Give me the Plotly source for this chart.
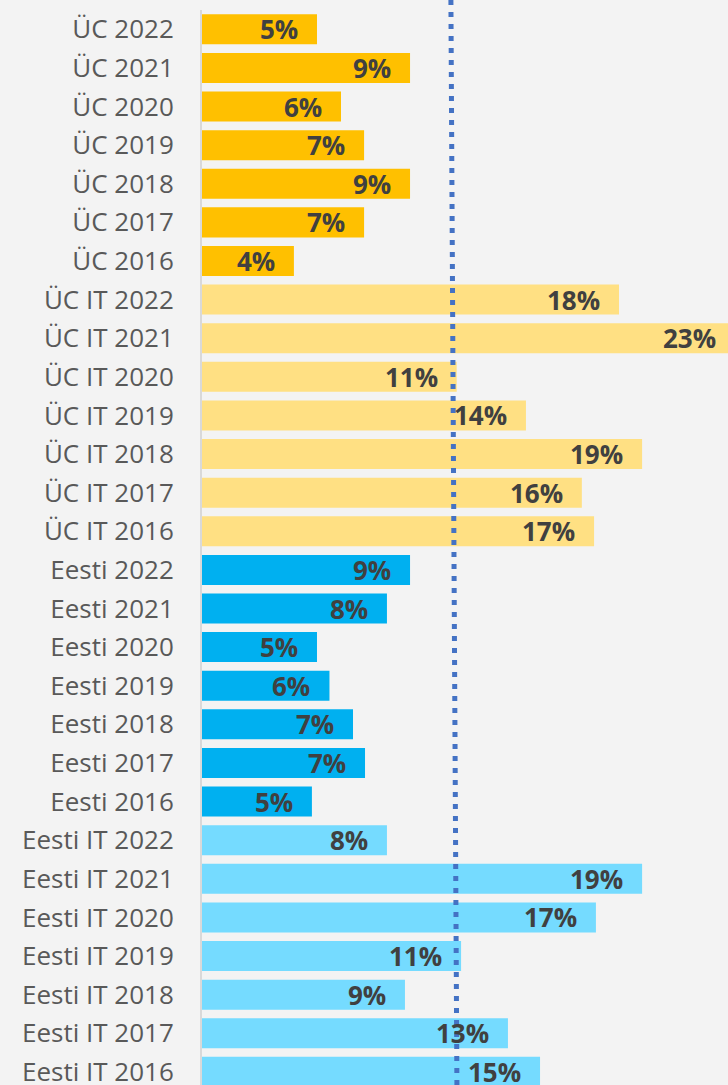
import plotly.graph_objects as go

# Categories, top to bottom as shown
categories = [
    "ÜC 2022", "ÜC 2021", "ÜC 2020", "ÜC 2019", "ÜC 2018", "ÜC 2017", "ÜC 2016",
    "ÜC IT 2022", "ÜC IT 2021", "ÜC IT 2020", "ÜC IT 2019", "ÜC IT 2018", "ÜC IT 2017", "ÜC IT 2016",
    "Eesti 2022", "Eesti 2021", "Eesti 2020", "Eesti 2019", "Eesti 2018", "Eesti 2017", "Eesti 2016",
    "Eesti IT 2022", "Eesti IT 2021", "Eesti IT 2020", "Eesti IT 2019", "Eesti IT 2018", "Eesti IT 2017", "Eesti IT 2016",
]
groups = (["ÜC"] * 7 + ["ÜC IT"] * 7 + ["Eesti"] * 7 + ["Eesti IT"] * 7)

# Values in percent
values = [
    4.98, 9.01, 6.02, 7.02, 9.01, 7.02, 3.98,
    18.06, 23.08, 11.03, 14.03, 19.06, 16.45, 16.98,
    9.01, 8.01, 4.98, 5.52, 6.54, 7.06, 4.76,
    8.01, 19.06, 17.06, 11.22, 8.79, 13.25, 14.64,
]
labels = [
    "5%", "9%", "6%", "7%", "9%", "7%", "4%",
    "18%", "23%", "11%", "14%", "19%", "16%", "17%",
    "9%", "8%", "5%", "6%", "7%", "7%", "5%",
    "8%", "19%", "17%", "11%", "9%", "13%", "15%",
]

# Reference (dotted) line, value at top and bottom of the chart
ref_line_top = 10.78
ref_line_bottom = 11.04

group_colors = {
    "ÜC": "#FFC000",
    "ÜC IT": "#FFE083",
    "Eesti": "#00B0F0",
    "Eesti IT": "#75DBFF",
}
colors = [group_colors[g] for g in groups]

W, H = 728, 1085
ML, MR, MT, MB = 202, 0, 10, 0
X_MAX = 22.78
px_per_unit = (W - ML - MR) / X_MAX

fig = go.Figure()
fig.add_trace(go.Bar(
    x=values,
    y=categories,
    orientation="h",
    marker=dict(color=colors, line=dict(width=0)),
    hoverinfo="skip",
))

for c, v, t in zip(categories, values, labels):
    xa = min(v, X_MAX - 0.001)
    extra = (v - xa) * px_per_unit
    fig.add_annotation(
        x=xa, y=c, xref="x", yref="y",
        text=t, showarrow=False,
        xanchor="right", yanchor="middle", xshift=-17 + extra,
        font=dict(family="Open Sans", size=26, color="#404040", weight="bold"),
    )

fig.add_shape(
    type="line", xref="x", yref="paper",
    x0=ref_line_top, y0=1 + MT / (H - MT - MB), x1=ref_line_bottom, y1=0,
    line=dict(color="#4472C4", width=5, dash="5px,7px"),
    layer="above",
)

n = len(categories)
fig.update_layout(
    width=W, height=H,
    margin=dict(l=ML, r=MR, t=MT, b=MB, autoexpand=False),
    paper_bgcolor="#F3F3F3",
    plot_bgcolor="#F3F3F3",
    bargap=0.223,
    showlegend=False,
    xaxis=dict(
        range=[0, X_MAX], visible=False, showgrid=False, zeroline=False,
    ),
    yaxis=dict(
        type="category",
        categoryorder="array",
        categoryarray=categories[::-1],
        range=[-0.34, n - 0.5],
        showgrid=False, zeroline=False,
        showline=True, linecolor="#D9D9D9", linewidth=2,
        ticks="", ticklabelstandoff=21,
        tickfont=dict(family="Open Sans", size=26, color="#595959"),
        automargin=False,
    ),
)

fig.write_html(
    "out.html",
    config={"displayModeBar": False},
    post_script="document.body.style.margin='0';document.body.style.overflow='hidden';",
)
